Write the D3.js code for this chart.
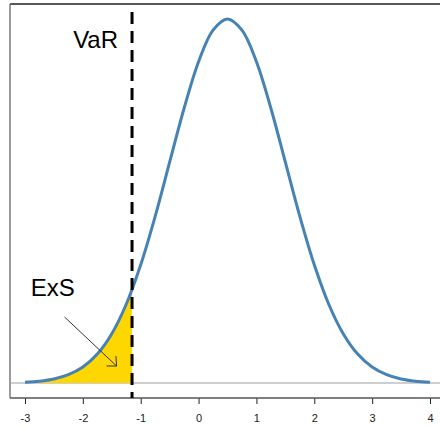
<!DOCTYPE html>
<html>
<head>
<meta charset="utf-8">
<script src="https://cdn.jsdelivr.net/npm/d3@7"></script>
<style>
  body { margin: 0; background: #fff; }
  svg { display: block; font-family: "Liberation Sans", Arial, sans-serif; }
</style>
</head>
<body>
<div class="chart"></div>
<script>
// values: x positions and density heights of the curve
var xValues = [-3, -2.75, -2.5, -2.25, -2, -1.75, -1.5, -1.25, -1, -0.75, -0.5, -0.25,
               0, 0.25, 0.5, 0.75, 1, 1.25, 1.5, 1.75, 2, 2.25, 2.5, 2.75, 3, 3.25, 3.5, 3.75, 4];
var density = [0.0009, 0.0020, 0.0044, 0.0091, 0.0175, 0.0317, 0.0540, 0.0863, 0.1295, 0.1826, 0.2420, 0.3011,
               0.3521, 0.3867, 0.3989, 0.3867, 0.3521, 0.3011, 0.2420, 0.1826, 0.1295, 0.0863, 0.0540, 0.0317, 0.0175, 0.0091, 0.0044, 0.0020, 0.0009];
var xTicks = [-3, -2, -1, 0, 1, 2, 3, 4];
var varValue = -1.15;
var labels = ["VaR", "ExS"];

var svgWidth = 440,
    svgHeight = 428;

var x = d3.scaleLinear().domain([-3, 4]).range([25, 430]);
var y = d3.scaleLinear().domain([0, 0.4]).range([383, 18]);

var data = xValues.map(function(v, i) { return { x: v, d: density[i] }; });

var svg = d3.select(".chart")
    .append("svg")
    .attr("width", svgWidth)
    .attr("height", svgHeight);

svg.append("defs").append("clipPath")
    .attr("id", "left-tail")
  .append("rect")
    .attr("x", 0)
    .attr("y", 0)
    .attr("width", x(varValue))
    .attr("height", svgHeight);

// plot box (right side falls outside the picture)
var boxLeft = 10, boxTop = 4, boxBottom = 398;
svg.append("line")
    .attr("x1", boxLeft).attr("x2", svgWidth)
    .attr("y1", boxTop).attr("y2", boxTop)
    .attr("stroke", "#222").attr("stroke-width", 1.3);
svg.append("line")
    .attr("x1", boxLeft).attr("x2", boxLeft)
    .attr("y1", boxTop).attr("y2", boxBottom)
    .attr("stroke", "#666").attr("stroke-width", 1.3);

// x axis at the box bottom
var xAxis = d3.axisBottom(x)
    .tickValues(xTicks)
    .tickSize(6)
    .tickPadding(10)
    .tickFormat(d3.format("d"));

var gx = svg.append("g")
    .attr("transform", "translate(0," + boxBottom + ")")
    .call(xAxis);
gx.select(".domain").remove();
gx.selectAll(".tick line").attr("stroke", "#222");
gx.selectAll(".tick text")
    .attr("fill", "#222")
    .style("font-size", "11px")
    .text(function(d) { return d < 0 ? "-" + Math.abs(d) : d; });
svg.append("line")
    .attr("x1", boxLeft).attr("x2", svgWidth)
    .attr("y1", boxBottom).attr("y2", boxBottom)
    .attr("stroke", "#555").attr("stroke-width", 1.3);

// zero line
svg.append("line")
    .attr("x1", boxLeft + 1).attr("x2", svgWidth)
    .attr("y1", y(0)).attr("y2", y(0))
    .attr("stroke", "#cfcfcf").attr("stroke-width", 2);

var curve = d3.curveCatmullRom.alpha(0.5);

var area = d3.area()
    .curve(curve)
    .x(function(d) { return x(d.x); })
    .y0(y(0))
    .y1(function(d) { return y(d.d); });

var line = d3.line()
    .curve(curve)
    .x(function(d) { return x(d.x); })
    .y(function(d) { return y(d.d); });

svg.append("path")
    .datum(data)
    .attr("clip-path", "url(#left-tail)")
    .attr("fill", "#ffd700")
    .attr("d", area);

svg.append("path")
    .datum(data)
    .attr("fill", "none")
    .attr("stroke", "#4682b4")
    .attr("stroke-width", 3)
    .attr("stroke-linejoin", "round")
    .attr("d", line);

// VaR line
svg.append("line")
    .attr("x1", x(varValue)).attr("x2", x(varValue))
    .attr("y1", 12).attr("y2", boxBottom)
    .attr("stroke", "#000")
    .attr("stroke-width", 3)
    .attr("stroke-dasharray", "12,7");

svg.append("text")
    .attr("x", x(varValue) - 14)
    .attr("y", y(0.367))
    .attr("text-anchor", "end")
    .style("font-size", "24px")
    .text(labels[0]);

svg.append("text")
    .attr("x", x(-2.9))
    .attr("y", y(0.095))
    .style("font-size", "24px")
    .text(labels[1]);

// arrow into the tail
var a0 = [x(-2.316), y(0.0723)],
    a1 = [x(-1.417), y(0.0186)];
svg.append("line")
    .attr("x1", a0[0]).attr("y1", a0[1])
    .attr("x2", a1[0]).attr("y2", a1[1])
    .attr("stroke", "#333").attr("stroke-width", 1);

var ang = Math.atan2(a1[1] - a0[1], a1[0] - a0[0]);
[-0.75, 0.75].forEach(function(da) {
    svg.append("line")
        .attr("x1", a1[0]).attr("y1", a1[1])
        .attr("x2", a1[0] - 10 * Math.cos(ang + da))
        .attr("y2", a1[1] - 10 * Math.sin(ang + da))
        .attr("stroke", "#333").attr("stroke-width", 1);
});
</script>
</body>
</html>
